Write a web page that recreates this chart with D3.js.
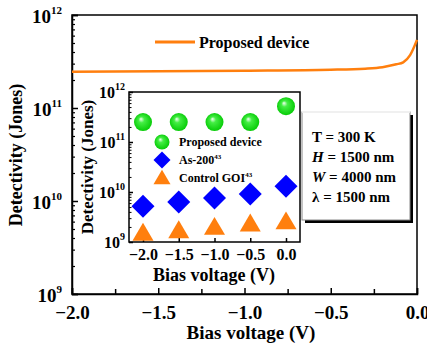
<!DOCTYPE html>
<html><head><meta charset="utf-8">
<script src="https://cdn.jsdelivr.net/npm/d3@7"></script>
<style>
body{margin:0;background:#fff;}
svg text{font-family:"Liberation Serif","Times New Roman","DejaVu Serif",serif !important;font-weight:bold;}
</style></head>
<body><svg id="c" width="427" height="347"></svg>
<script>
// Main curve
const mainV = [-2.0, -1.5, -1.0, -0.5, -0.3, -0.2, -0.12, -0.08, -0.04, 0.0];
const mainD = [2.45e11, 2.48e11, 2.52e11, 2.58e11, 2.65e11, 2.75e11, 2.95e11, 3.1e11, 3.7e11, 5.4e11];
// Inset
const insetV = [-2.0, -1.5, -1.0, -0.5, 0.0];
const proposed = [2.5e11, 2.5e11, 2.5e11, 2.5e11, 5.2e11];
const as200 = [5.2e9, 6.3e9, 7.6e9, 9.1e9, 1.3e10];
const controlGOI = [1.6e9, 1.8e9, 2.1e9, 2.45e9, 2.7e9];
const xTicks = [-2.0, -1.5, -1.0, -0.5, 0.0];
const yExps = [9, 10, 11, 12];
const infoLines = [["T"," = 300 K",false],["H"," = 1500 nm",true],["W"," = 4000 nm",true],["λ"," = 1500 nm",false]];

const svg = d3.select("#c");
const orange = "#ff7f0e", blue = "#0000ff";

const defs = svg.append("defs");
const g = defs.append("radialGradient").attr("id","ball").attr("cx","0.5").attr("cy","0.5").attr("r","0.55").attr("fx","0.38").attr("fy","0.32");
g.append("stop").attr("offset","0").attr("stop-color","#f4fff4");
g.append("stop").attr("offset","0.3").attr("stop-color","#44ee44");
g.append("stop").attr("offset","1").attr("stop-color","#00c800");

function logMinors(lo, hi){ const a=[]; for(let e=lo;e<hi;e++) for(let m=2;m<=9;m++) a.push(m*Math.pow(10,e)); return a; }

// ---------- Main plot ----------
const X = d3.scaleLinear().domain([-2,0]).range([72,417]);
const Y = d3.scaleLog().domain([1e9,1e12]).range([294,15]);

svg.append("rect").attr("x",72).attr("y",15).attr("width",345).attr("height",279).attr("fill","none").attr("stroke","#000").attr("stroke-width",1.5);

const ax = svg.append("g").attr("transform","translate(0,294)")
  .call(d3.axisBottom(X).tickValues(xTicks).tickSize(-6).tickFormat(d3.format(".1f")));
ax.select(".domain").attr("stroke-width",1.5);
ax.selectAll("text").attr("dy",null).attr("y",25).style("font-size","19px");
ax.selectAll("line").attr("stroke-width",1.5);
svg.append("g").attr("transform","translate(0,294)")
  .call(d3.axisBottom(X).tickValues([-1.75,-1.25,-0.75,-0.25]).tickSize(-5).tickFormat(""))
  .call(s=>s.select(".domain").remove()).selectAll("line").attr("stroke-width",1.5);

const ay = svg.append("g").attr("transform","translate(72,0)")
  .call(d3.axisLeft(Y).tickValues(yExps.map(e=>Math.pow(10,e))).tickSize(-6).tickFormat(""));
ay.select(".domain").attr("stroke-width",1.5);
ay.selectAll("line").attr("stroke-width",1.5);
svg.append("g").attr("transform","translate(72,0)")
  .call(d3.axisLeft(Y).tickValues(logMinors(9,12)).tickSize(-3).tickFormat(""))
  .call(s=>s.select(".domain").remove()).selectAll("line").attr("stroke-width",1.2);

yExps.forEach(e=>{
  const t = svg.append("text").attr("x",62).attr("y",Y(Math.pow(10,e))+8).attr("text-anchor","end").style("font-size","19px");
  t.append("tspan").text("10");
  t.append("tspan").attr("dy",-9).style("font-size","11px").text(e);
});

svg.append("text").attr("transform","translate(22,155) rotate(-90)").attr("text-anchor","middle").style("font-size","18px").text("Detectivity (Jones)");
svg.append("text").attr("x",251).attr("y",339).attr("text-anchor","middle").style("font-size","19px").text("Bias voltage (V)");

svg.append("path").datum(mainV.map((v,i)=>[v,mainD[i]]))
  .attr("d", d3.line().x(d=>X(d[0])).y(d=>Y(d[1])).curve(d3.curveMonotoneX))
  .attr("fill","none").attr("stroke",orange).attr("stroke-width",2.5);

svg.append("line").attr("x1",155).attr("x2",195).attr("y1",42).attr("y2",42).attr("stroke",orange).attr("stroke-width",3);
svg.append("text").attr("x",199).attr("y",48).style("font-size","16px").text("Proposed device");

// ---------- Inset ----------
const IX = d3.scaleLinear().domain([-2,0]).range([143,286]);
const IY = d3.scaleLog().domain([1e9,1e12]).range([242,92]);

svg.append("rect").attr("x",129).attr("y",92).attr("width",171).attr("height",150).attr("fill","#fff").attr("stroke","#000").attr("stroke-width",1.5);

const iax = svg.append("g").attr("transform","translate(0,242)")
  .call(d3.axisBottom(IX).tickValues(xTicks).tickSize(-4).tickFormat(d3.format(".1f")));
iax.select(".domain").remove();
iax.selectAll("text").attr("dy",null).attr("y",18).style("font-size","16px");
iax.selectAll("line").attr("stroke-width",1.5);

const iay = svg.append("g").attr("transform","translate(129,0)")
  .call(d3.axisLeft(IY).tickValues(yExps.map(e=>Math.pow(10,e))).tickSize(-4).tickFormat(""));
iay.select(".domain").remove();
iay.selectAll("line").attr("stroke-width",1.5);
svg.append("g").attr("transform","translate(129,0)")
  .call(d3.axisLeft(IY).tickValues(logMinors(9,12)).tickSize(-2.5).tickFormat(""))
  .call(s=>s.select(".domain").remove()).selectAll("line").attr("stroke-width",1);

yExps.forEach(e=>{
  const t = svg.append("text").attr("x",125).attr("y",IY(Math.pow(10,e))+6).attr("text-anchor","end").style("font-size","16px");
  t.append("tspan").text("10");
  t.append("tspan").attr("dy",-8).style("font-size","10px").text(e);
});
svg.append("text").attr("transform","translate(93,167) rotate(-90)").attr("text-anchor","middle").style("font-size","17px").text("Detectivity (Jones)");
svg.append("text").attr("x",214).attr("y",281).attr("text-anchor","middle").style("font-size","18px").text("Bias voltage (V)");

function drawDiamond(cx,cy,h){ svg.append("path").attr("d",`M${cx},${cy-h}L${cx+h},${cy}L${cx},${cy+h}L${cx-h},${cy}Z`).attr("fill",blue); }
function drawTri(cx,cy,w){ const h=w*0.85; svg.append("path").attr("d",`M${cx},${cy-h/2}L${cx+w/2},${cy+h/2}L${cx-w/2},${cy+h/2}Z`).attr("fill",orange); }

svg.selectAll("circle.p").data(insetV).join("circle").attr("class","p")
  .attr("cx",(d)=>IX(d)).attr("cy",(d,i)=>IY(proposed[i])).attr("r",9).attr("fill","url(#ball)");
insetV.forEach((v,i)=>drawDiamond(IX(v),IY(as200[i]),11.5));
insetV.forEach((v,i)=>drawTri(IX(v),IY(controlGOI[i]),21));

// inset legend
svg.append("circle").attr("cx",162).attr("cy",142).attr("r",7.5).attr("fill","url(#ball)");
drawDiamond(162,160,8.5);
drawTri(162,177,17);
svg.append("text").attr("x",179).attr("y",146).style("font-size","12px").text("Proposed device");
const t2 = svg.append("text").attr("x",179).attr("y",164).style("font-size","12px");
t2.append("tspan").text("As-200"); t2.append("tspan").attr("dy",-5).style("font-size","7px").text("43");
const t3 = svg.append("text").attr("x",179).attr("y",182).style("font-size","12px");
t3.append("tspan").text("Control GOI"); t3.append("tspan").attr("dy",-5).style("font-size","7px").text("43");

// ---------- Info box ----------
svg.append("rect").attr("x",305).attr("y",115).attr("width",108).attr("height",108).attr("fill","#000");
svg.append("rect").attr("x",302).attr("y",112).attr("width",108).attr("height",108).attr("fill","#fff").attr("stroke","#888").attr("stroke-width",1);
svg.append("line").attr("x1",302).attr("x2",410).attr("y1",112).attr("y2",112).attr("stroke","#fff").attr("stroke-width",1.5);
infoLines.forEach((l,i)=>{
  const t = svg.append("text").attr("x",312).attr("y",142+i*20).style("font-size","15px");
  t.append("tspan").style("font-style",l[2]?"italic":"normal").text(l[0]);
  t.append("tspan").text(l[1]);
});
</script></body></html>
